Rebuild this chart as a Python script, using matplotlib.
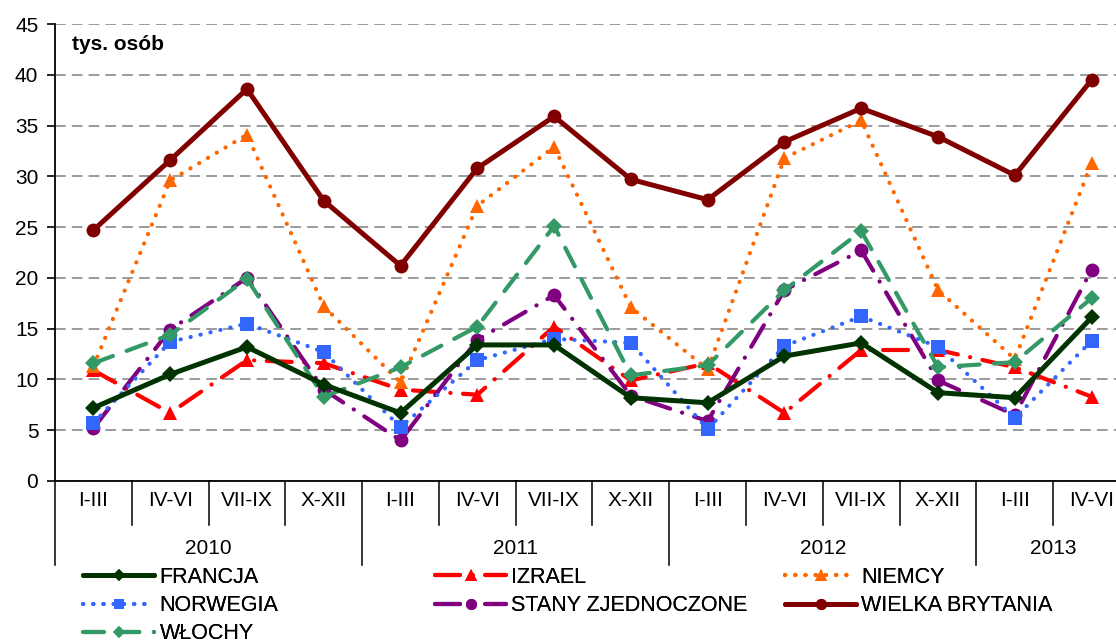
import matplotlib.pyplot as plt
from matplotlib.transforms import blended_transform_factory

plt.rcParams["font.family"] = ["Liberation Sans", "DejaVu Sans"]

quarters = ["I-III", "IV-VI", "VII-IX", "X-XII"] * 3 + ["I-III", "IV-VI"]
years = ["2010", "2011", "2012", "2013"]
year_sizes = [4, 4, 4, 2]

francja = [7.2, 10.5, 13.2, 9.5, 6.7, 13.4, 13.4, 8.2, 7.7, 12.3, 13.6, 8.7, 8.2, 16.1]
izrael = [10.9, 6.7, 11.9, 11.6, 9.0, 8.5, 15.2, 9.9, 11.6, 6.7, 12.9, 12.9, 11.2, 8.3]
niemcy = [11.3, 29.6, 34.1, 17.2, 9.7, 27.1, 32.9, 17.1, 11.0, 31.8, 35.5, 18.8, 12.0, 31.3]
norwegia = [5.7, 13.7, 15.5, 12.7, 5.3, 11.9, 14.0, 13.6, 5.1, 13.3, 16.2, 13.2, 6.2, 13.8]
stany = [5.2, 14.9, 20.0, 9.0, 4.0, 13.9, 18.3, 8.4, 5.9, 18.8, 22.7, 9.9, 6.5, 20.8]
wielka_brytania = [24.7, 31.6, 38.6, 27.6, 21.2, 30.8, 35.9, 29.7, 27.7, 33.4, 36.7, 33.9, 30.1, 39.5]
wlochy = [11.6, 14.4, 19.9, 8.3, 11.2, 15.2, 25.1, 10.4, 11.4, 18.8, 24.6, 11.2, 11.7, 18.0]

W, H = 1116, 642
fig = plt.figure(figsize=(W / 100, H / 100), dpi=100)
# plot area runs slightly past the right edge of the picture, as in the original
ax = fig.add_axes([55 / W, 1 - 481 / H, 1075 / W, 457 / H])

x = list(range(len(quarters)))
dot = (0, (0.05, 2.4))
long_dash_dot = (0, (6, 3, 0.05, 3))

series = [
    ("IZRAEL", izrael, "#FF0000", long_dash_dot, "^", 3.0, 2.0),
    ("NIEMCY", niemcy, "#FF6600", dot, "^", 3.0, 2.1),
    ("STANY ZJEDNOCZONE", stany, "#800080", long_dash_dot, "o", 3.0, 2.2),
    ("NORWEGIA", norwegia, "#3366FF", dot, "s", 3.0, 2.3),
    ("WŁOCHY", wlochy, "#339966", (0, (5, 3.5)), "D", 3.0, 2.4),
    ("FRANCJA", francja, "#003300", "-", "D", 3.6, 2.5),
    ("WIELKA BRYTANIA", wielka_brytania, "#800000", "-", "o", 3.6, 2.6),
]
msize = {"^": 10, "o": 10, "s": 9.5, "D": 8}

handles = {}
for name, vals, color, ls, marker, lw, z in series:
    (line,) = ax.plot(x, vals, color=color, linestyle=ls, linewidth=lw,
                      marker=marker, markersize=msize[marker],
                      markeredgewidth=0, dash_capstyle="round",
                      solid_capstyle="round", zorder=z, label=name)
    handles[name] = line

ax.set_xlim(-0.5, len(quarters) - 0.5)
ax.set_ylim(0, 45)
ax.set_yticks(range(0, 50, 5))
ax.tick_params(axis="y", direction="out", length=6, width=1.2, labelsize=15, pad=6)
ax.yaxis.grid(True, color="#808080", linestyle=(0, (7, 4)), linewidth=1.1)
ax.set_axisbelow(True)
for side in ["top", "right"]:
    ax.spines[side].set_visible(False)
ax.spines["left"].set_linewidth(1.3)
ax.spines["bottom"].set_linewidth(1.3)
ax.spines["bottom"].set_zorder(3)

# two-level category axis
ax.set_xticks([])
tr = blended_transform_factory(ax.transData, ax.transAxes)
for i, q in enumerate(quarters):
    ax.text(i, -0.042, q, transform=tr, ha="center", va="center", fontsize=15)
year_bounds = [0]
for n in year_sizes:
    year_bounds.append(year_bounds[-1] + n)
for b in range(len(quarters) + 1):
    depth = -0.184 if b in year_bounds else -0.096
    ax.plot([b - 0.5, b - 0.5], [0, depth], transform=tr, color="black",
            linewidth=1.1, clip_on=False)
for i, yr in enumerate(years):
    mid = (year_bounds[i] + year_bounds[i + 1] - 1) / 2
    ax.text(mid, -0.147, yr, transform=tr, ha="center", va="center", fontsize=15)

ax.text(72 / W, 1 - 45 / H, "tys. osób", transform=fig.transFigure,
        fontsize=15, fontweight="bold", va="center", ha="left")

columns = [
    (83, ["FRANCJA", "NORWEGIA", "WŁOCHY"]),
    (435, ["IZRAEL", "STANY ZJEDNOCZONE"]),
    (785, ["NIEMCY", "WIELKA BRYTANIA"]),
]
for xpos, names in columns:
    leg = fig.legend([handles[n] for n in names], names, loc="upper left",
                     bbox_to_anchor=(xpos / W, 1 - 567 / H), frameon=False,
                     fontsize=15.5, handlelength=3.3, handletextpad=0.25,
                     labelspacing=0.33, borderaxespad=0, borderpad=0,
                     numpoints=1, markerscale=0.8)
    fig.add_artist(leg)

fig.savefig("out.png", dpi=100)
